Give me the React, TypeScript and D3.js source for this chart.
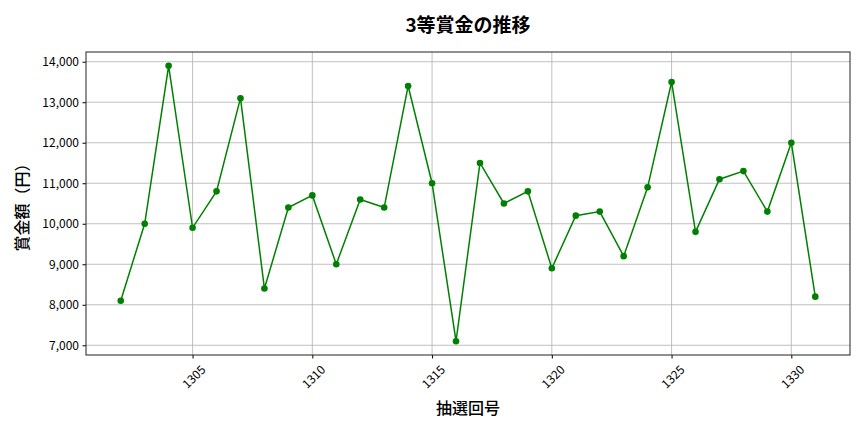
import React, { useEffect, useRef } from "react";
import * as d3 from "d3";

const rounds = [
  1302, 1303, 1304, 1305, 1306, 1307, 1308, 1309, 1310, 1311, 1312, 1313, 1314, 1315, 1316,
  1317, 1318, 1319, 1320, 1321, 1322, 1323, 1324, 1325, 1326, 1327, 1328, 1329, 1330, 1331,
];
const prizes = [
  8100, 10000, 13900, 9900, 10800, 13100, 8400, 10400, 10700, 9000, 10600, 10400, 13400, 11000,
  7100, 11500, 10500, 10800, 8900, 10200, 10300, 9200, 10900, 13500, 9800, 11100, 11300, 10300,
  12000, 8200,
];
const xTicks = [1305, 1310, 1315, 1320, 1325, 1330];
const yTicks = [7000, 8000, 9000, 10000, 11000, 12000, 13000, 14000];

const FONT = "'Noto Sans CJK JP', 'Noto Sans', sans-serif";

export default function App() {
  const ref = useRef<SVGSVGElement | null>(null);

  useEffect(() => {
    const W = 864;
    const H = 432;
    const margin = { top: 52, right: 14, bottom: 77, left: 86 };
    const width = W - margin.left - margin.right;
    const height = H - margin.top - margin.bottom;

    const svg = d3.select(ref.current);
    svg.selectAll("*").remove();

    const data = rounds.map((r, i) => ({ round: r, value: prizes[i] }));

    // matplotlib風の5%余白
    const xPad = (d3.max(rounds)! - d3.min(rounds)!) * 0.05;
    const yPad = (d3.max(prizes)! - d3.min(prizes)!) * 0.05;
    const x = d3
      .scaleLinear()
      .domain([d3.min(rounds)! - xPad, d3.max(rounds)! + xPad])
      .range([0, width]);
    const y = d3
      .scaleLinear()
      .domain([d3.min(prizes)! - yPad, d3.max(prizes)! + yPad])
      .range([height, 0]);

    const g = svg.append("g").attr("transform", `translate(${margin.left},${margin.top})`);

    // グリッド
    g.append("g")
      .selectAll("line")
      .data(xTicks)
      .enter()
      .append("line")
      .attr("x1", (d) => x(d))
      .attr("x2", (d) => x(d))
      .attr("y1", 0)
      .attr("y2", height)
      .attr("stroke", "#b0b0b0")
      .attr("stroke-width", 0.8);
    g.append("g")
      .selectAll("line")
      .data(yTicks)
      .enter()
      .append("line")
      .attr("x1", 0)
      .attr("x2", width)
      .attr("y1", (d) => y(d))
      .attr("y2", (d) => y(d))
      .attr("stroke", "#b0b0b0")
      .attr("stroke-width", 0.8);

    // x軸
    const xAxis = g
      .append("g")
      .attr("transform", `translate(0,${height})`)
      .call(d3.axisBottom(x).tickValues(xTicks).tickFormat(d3.format("d")).tickSize(3.5));
    xAxis.select(".domain").remove();
    xAxis
      .selectAll("text")
      .attr("font-family", FONT)
      .attr("font-size", 12)
      .attr("fill", "#000")
      .attr("text-anchor", "middle")
      .attr("dy", 0)
      .attr("y", 0)
      .attr("transform", "translate(0,21) rotate(-45)")
      .attr("dominant-baseline", "central");

    // y軸
    const yAxis = g
      .append("g")
      .call(d3.axisLeft(y).tickValues(yTicks).tickFormat(d3.format(",")).tickSize(3.5).tickPadding(3.5));
    yAxis.select(".domain").remove();
    yAxis.selectAll("text").attr("font-family", FONT).attr("font-size", 12).attr("fill", "#000");

    // 枠
    g.append("rect")
      .attr("width", width)
      .attr("height", height)
      .attr("fill", "none")
      .attr("stroke", "#222")
      .attr("stroke-width", 1);

    // 折れ線
    const line = d3
      .line<{ round: number; value: number }>()
      .x((d) => x(d.round))
      .y((d) => y(d.value));
    g.append("path")
      .datum(data)
      .attr("d", line)
      .attr("fill", "none")
      .attr("stroke", "#008000")
      .attr("stroke-width", 1.5);

    g.append("g")
      .selectAll("circle")
      .data(data)
      .enter()
      .append("circle")
      .attr("cx", (d) => x(d.round))
      .attr("cy", (d) => y(d.value))
      .attr("r", 3.3)
      .attr("fill", "#008000");

    // タイトル
    svg
      .append("text")
      .attr("x", margin.left + width / 2)
      .attr("y", 32)
      .attr("text-anchor", "middle")
      .attr("font-family", FONT)
      .attr("font-size", 19)
      .attr("font-weight", 700)
      .attr("fill", "#000")
      .text("3等賞金の推移");

    svg
      .append("text")
      .attr("x", margin.left + width / 2)
      .attr("y", 414)
      .attr("text-anchor", "middle")
      .attr("font-family", FONT)
      .attr("font-size", 16)
      .attr("font-weight", 500)
      .attr("fill", "#000")
      .text("抽選回号");

    svg
      .append("text")
      .attr("transform", `translate(28,${margin.top + height / 2}) rotate(-90)`)
      .attr("text-anchor", "middle")
      .attr("font-family", FONT)
      .attr("font-size", 16)
      .attr("font-weight", 500)
      .attr("fill", "#000")
      .text("賞金額（円）");
  }, []);

  return (
    <svg
      ref={ref}
      width={864}
      height={432}
      style={{ position: "absolute", top: 0, left: 0, background: "#fff" }}
    />
  );
}
